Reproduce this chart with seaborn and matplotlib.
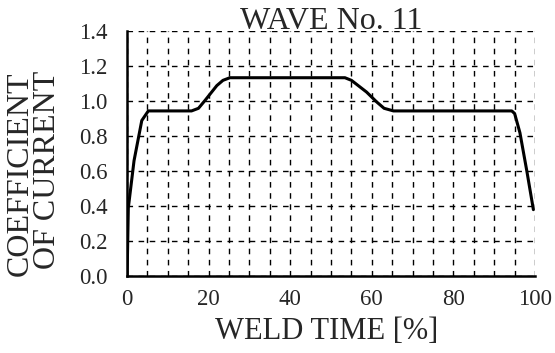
import numpy as np
import pandas as pd
import matplotlib
matplotlib.use("Agg")
import matplotlib.pyplot as plt
import seaborn as sns

# --- WAVE No. 11: coefficient of current vs weld time ---
weld_time = [0, 0.3, 1.7, 3.6, 5.2, 15.8, 17.5, 19.1, 22.0, 23.5, 25.2,
             53.4, 55.0, 58.7, 61.2, 63.0, 65.3, 94.3, 95.0, 96.3, 98.0, 99.6]
coef = [0.0, 0.39, 0.66, 0.89, 0.945, 0.945, 0.96, 1.005, 1.09, 1.12, 1.135,
        1.135, 1.12, 1.053, 0.996, 0.96, 0.945, 0.945, 0.93, 0.82, 0.60, 0.38]
x_ticks = [0, 20, 40, 60, 80, 100]
y_ticks = [0.0, 0.2, 0.4, 0.6, 0.8, 1.0, 1.2, 1.4]

df = pd.DataFrame({"weld_time": weld_time, "coef": coef})

sns.set_style("white")
plt.rcParams["font.family"] = ["Liberation Serif", "DejaVu Serif"]

fig = plt.figure(figsize=(5.55, 3.53), dpi=100)
ax = fig.add_axes([0.229, 0.218, 0.735, 0.693])

sns.lineplot(data=df, x="weld_time", y="coef", color="black",
             linewidth=2.2, sort=False, ax=ax)

ax.set_xlim(0, 100)
ax.set_ylim(0, 1.4)
ax.set_xticks(x_ticks)
ax.set_xticks(np.arange(0, 101, 5), minor=True)
ax.set_yticks(y_ticks)
ax.set_yticklabels([f"{v:.1f}" for v in y_ticks])
ax.tick_params(which="both", length=0, labelsize=16.5)
ax.tick_params(axis="y", pad=14)
ax.tick_params(axis="x", pad=9)

ax.grid(True, which="both", color="black", linestyle=(0, (4, 4)), linewidth=1.0)
ax.set_axisbelow(True)

for s in ["top", "right"]:
    ax.spines[s].set_visible(False)
for s in ["left", "bottom"]:
    ax.spines[s].set_color("black")
    ax.spines[s].set_linewidth(1.8)

ax.set_title("WAVE No. 11", fontsize=23, pad=2)
ax.set_xlabel("WELD TIME [%]", fontsize=22)
ax.xaxis.label.set_va("center")
ax.xaxis.set_label_coords(0.49, -0.228)
ax.set_ylabel("COEFFICIENT\nOF CURRENT", fontsize=23, linespacing=0.9,
              multialignment="right")
ax.yaxis.label.set_va("center")
ax.yaxis.set_label_coords(-0.228, 0.42)

fig.savefig("out.png", dpi=100)
